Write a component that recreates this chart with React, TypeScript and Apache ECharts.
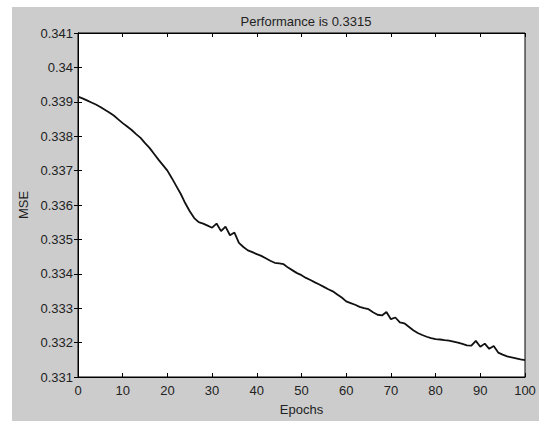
import React, { useEffect, useRef } from "react";
import * as echarts from "echarts";

const epochs: number[] = Array.from({ length: 101 }, (_, i) => i);

const mse: number[] = [
  0.33915, 0.3391, 0.33904, 0.33898, 0.33892, 0.33885, 0.33877, 0.33869, 0.3386, 0.33849,
  0.33838, 0.33828, 0.33818, 0.33806, 0.33795, 0.3378, 0.33766, 0.33749, 0.33732, 0.33716,
  0.337, 0.33678, 0.33655, 0.33632, 0.33605, 0.33582, 0.33562, 0.3355, 0.33546, 0.3354,
  0.33534, 0.33546, 0.33524, 0.33537, 0.33512, 0.3352, 0.3349, 0.33478, 0.33468, 0.33463,
  0.33457, 0.33452, 0.33445, 0.33438, 0.33432, 0.3343, 0.33428, 0.33418, 0.3341, 0.33402,
  0.33396, 0.33388, 0.33382, 0.33375, 0.33369, 0.33362, 0.33355, 0.33349, 0.3334, 0.33331,
  0.3332, 0.33315, 0.3331, 0.33304, 0.333, 0.33297, 0.33288, 0.33281, 0.33279, 0.33289,
  0.33268, 0.33273, 0.33259, 0.33256, 0.33246, 0.33236, 0.33228, 0.33222, 0.33217, 0.33213,
  0.3321, 0.33209, 0.33207, 0.33206, 0.33203, 0.332, 0.33196, 0.33192, 0.33191, 0.33205,
  0.33188, 0.33197, 0.33182, 0.3319, 0.33171, 0.33165, 0.3316, 0.33157, 0.33154, 0.33151,
  0.33149,
];

const titleText = "Performance is 0.3315";
const xName = "Epochs";
const yName = "MSE";

const FONT = "Liberation Sans, Arial, sans-serif";

export default function App() {
  const ref = useRef<HTMLDivElement>(null);
  useEffect(() => {
    if (!ref.current) return;
    const chart = echarts.init(ref.current, undefined, { renderer: "svg" });
    const labelStyle = { color: "#222", fontSize: 13, fontFamily: FONT };
    chart.setOption({
      animation: false,
      backgroundColor: "#ffffff",
      graphic: [
        {
          type: "rect",
          z: -10,
          silent: true,
          shape: { x: 12, y: 7, width: 527, height: 414 },
          style: { fill: "#cccccc" },
        },
      ],
      title: {
        text: titleText,
        left: 301,
        top: 10,
        textAlign: "center",
        textStyle: { color: "#222", fontSize: 13, fontWeight: "normal", fontFamily: FONT },
      },
      grid: {
        left: 78,
        top: 33,
        width: 447,
        height: 351,
        show: true,
        backgroundColor: "#ffffff",
        borderColor: "#000",
        borderWidth: 1,
      },
      xAxis: [
        {
          type: "value",
          min: 0,
          max: 100,
          interval: 10,
          name: xName,
          nameLocation: "middle",
          nameGap: 26,
          nameTextStyle: labelStyle,
          axisLine: { lineStyle: { color: "#000" } },
          axisTick: { inside: true, length: 4, lineStyle: { color: "#000" } },
          axisLabel: { ...labelStyle, margin: 7 },
          splitLine: { show: false },
        },
        {
          type: "value",
          min: 0,
          max: 100,
          interval: 10,
          position: "top",
          axisLine: { lineStyle: { color: "#000" } },
          axisTick: { inside: true, length: 4, lineStyle: { color: "#000" } },
          axisLabel: { show: false },
          splitLine: { show: false },
        },
      ],
      yAxis: [
        {
          type: "value",
          min: 0.331,
          max: 0.341,
          interval: 0.001,
          name: yName,
          nameLocation: "middle",
          nameGap: 44,
          nameTextStyle: labelStyle,
          axisLine: { lineStyle: { color: "#000" } },
          axisTick: { inside: true, length: 4, lineStyle: { color: "#000" } },
          axisLabel: {
            ...labelStyle,
            margin: 5,
            formatter: (v: number) => String(parseFloat(v.toFixed(3))),
          },
          splitLine: { show: false },
        },
        {
          type: "value",
          min: 0.331,
          max: 0.341,
          interval: 0.001,
          position: "right",
          axisLine: { lineStyle: { color: "#000" } },
          axisTick: { inside: true, length: 4, lineStyle: { color: "#000" } },
          axisLabel: { show: false },
          splitLine: { show: false },
        },
      ],
      series: [
        {
          type: "line",
          xAxisIndex: 0,
          yAxisIndex: 0,
          data: epochs.map((e, i) => [e, mse[i]]),
          showSymbol: false,
          symbol: "none",
          lineStyle: { color: "#111", width: 1.8 },
        },
      ],
    });
    return () => chart.dispose();
  }, []);
  return (
    <div
      ref={ref}
      style={{ position: "fixed", left: 0, top: 0, width: 539, height: 421 }}
    />
  );
}
